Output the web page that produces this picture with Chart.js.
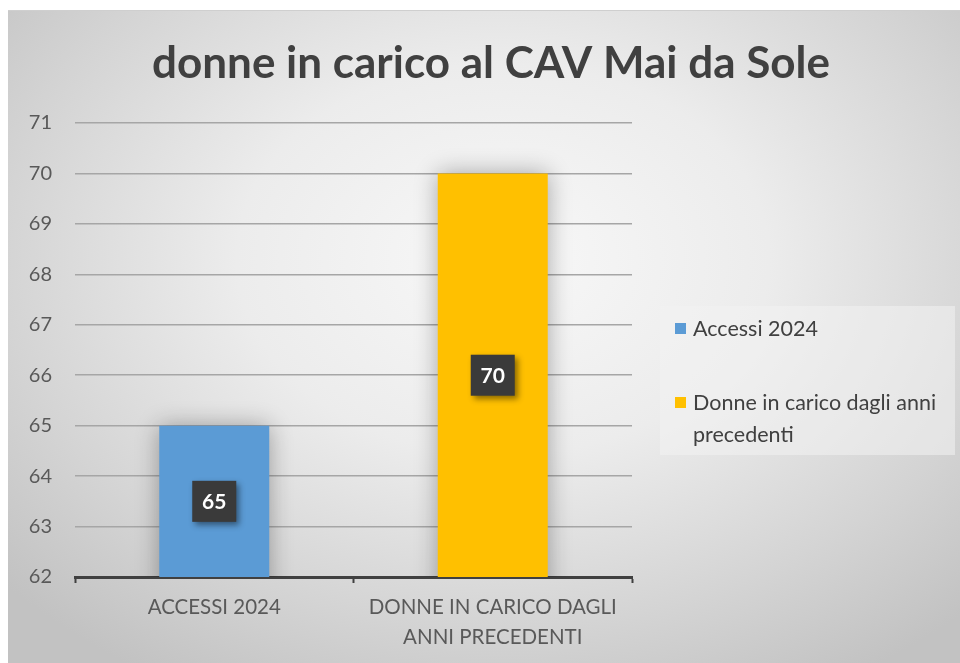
<!DOCTYPE html>
<html>
<head>
<meta charset="utf-8">
<script src="https://cdn.jsdelivr.net/npm/chart.js@4.4.1/dist/chart.umd.min.js"></script>
<style>
  html, body { margin: 0; padding: 0; background: #ffffff; width: 960px; height: 663px; overflow: hidden; }
  #panel {
    position: absolute; left: 8px; top: 10px; width: 952px; height: 653px;
    background: radial-gradient(ellipse 70% 75% at 52% 38%, #f8f8f8 0%, #ececec 40%, #d4d4d4 75%, #c2c2c2 100%);
    border-top: 1px solid #cfcfcf;
  }
  #c { position: absolute; left: 0; top: 0; }
  #legend {
    position: absolute; left: 660px; top: 306px; width: 295px; height: 149px;
    background: rgba(242,242,242,0.55);
    font-family: Lato, "Open Sans", sans-serif; font-size: 21.5px; color: #404040;
  }
  .li { position: absolute; left: 0; width: 290px; }
  .sw { position: absolute; left: 15px; width: 11px; height: 11px; }
  .tx { position: absolute; left: 33px; line-height: 32px; width: 262px; }
</style>
</head>
<body>
<div id="panel"></div>
<canvas id="c" width="960" height="663"></canvas>
<div id="legend"></div>
<script>
const title = "donne in carico al CAV Mai da Sole";
const categories = ["Accessi 2024", "Donne in carico dagli anni precedenti"];
const tickLabels = [["ACCESSI 2024"], ["DONNE IN CARICO DAGLI", "ANNI PRECEDENTI"]];
const values = [65, 70];
const colors = ["#5b9bd5", "#ffc000"];
const yMin = 62, yMax = 71, yStep = 1;

const FONT = "Lato, 'Open Sans', sans-serif";

const decor = {
  id: 'decor',
  beforeDatasetDraw(chart) {
    const ctx = chart.ctx;
    ctx.save();
    ctx.shadowColor = 'rgba(0,0,0,0.32)';
    ctx.shadowBlur = 22;
  },
  afterDatasetDraw(chart) {
    chart.ctx.restore();
  },
  afterDraw(chart) {
    const ctx = chart.ctx;
    ctx.save();
    ctx.fillStyle = '#404040';
    ctx.font = "bold 44px " + FONT;
    ctx.textAlign = 'center';
    ctx.textBaseline = 'alphabetic';
    ctx.fillText(title, 491, 78);
    ctx.restore();
    const xs = chart.scales.x, ys = chart.scales.y;
    for (let i = 0; i < values.length; i++) {
      const cx = xs.getPixelForValue(i);
      const top = ys.getPixelForValue(values[i]);
      const base = ys.getPixelForValue(yMin);
      const cy = (top + base) / 2;
      const w = 44, h = 41;
      ctx.save();
      ctx.shadowColor = 'rgba(0,0,0,0.45)';
      ctx.shadowBlur = 6;
      ctx.shadowOffsetX = 3;
      ctx.shadowOffsetY = 3;
      ctx.fillStyle = '#3a3a3a';
      ctx.fillRect(cx - w / 2, cy - h / 2, w, h);
      ctx.restore();
      ctx.save();
      ctx.fillStyle = '#ffffff';
      ctx.font = "bold 21px " + FONT;
      ctx.textAlign = 'center';
      ctx.textBaseline = 'middle';
      ctx.fillText(String(values[i]), cx, cy + 1);
      ctx.restore();
    }
  }
};

const chart = new Chart(document.getElementById('c'), {
  type: 'bar',
  data: {
    labels: categories,
    datasets: [{
      label: 'donne',
      data: values,
      backgroundColor: colors,
      borderWidth: 0,
      barPercentage: 0.395,
      categoryPercentage: 1.0
    }]
  },
  options: {
    responsive: false,
    animation: false,
    devicePixelRatio: 1,
    layout: { padding: { left: 0, right: 328, top: 123, bottom: 0 } },
    plugins: {
      legend: { display: false },
      tooltip: { enabled: false },
      title: { display: false }
    },
    scales: {
      x: {
        afterFit(scale) { scale.height = 86; },
        grid: { display: true, drawOnChartArea: false, drawTicks: true, tickLength: 6, tickWidth: 2, tickColor: '#404040', offset: true },
        border: { display: true, color: '#404040', width: 3 },
        ticks: {
          color: '#595959',
          font: { family: FONT, size: 20.5, lineHeight: 1.45 },
          padding: 10,
          maxRotation: 0,
          autoSkip: false,
          callback: (v, i) => tickLabels[i]
        }
      },
      y: {
        min: yMin,
        max: yMax,
        afterFit(scale) { scale.width = 75; },
        grid: { color: '#a6a6a6', lineWidth: 1.5, drawTicks: false },
        border: { display: false },
        ticks: {
          stepSize: yStep,
          color: '#595959',
          font: { family: FONT, size: 20 },
          padding: 23
        }
      }
    }
  },
  plugins: [decor]
});

// legend built from the chart data
const leg = document.getElementById('legend');
const tops = [6, 80];
categories.forEach((name, i) => {
  const li = document.createElement('div');
  li.className = 'li';
  li.style.top = tops[i] + 'px';
  const sw = document.createElement('div');
  sw.className = 'sw';
  sw.style.top = '11px';
  sw.style.background = colors[i];
  const tx = document.createElement('div');
  tx.className = 'tx';
  tx.style.top = '0px';
  tx.textContent = name;
  li.appendChild(sw);
  li.appendChild(tx);
  leg.appendChild(li);
});
</script>
</body>
</html>
